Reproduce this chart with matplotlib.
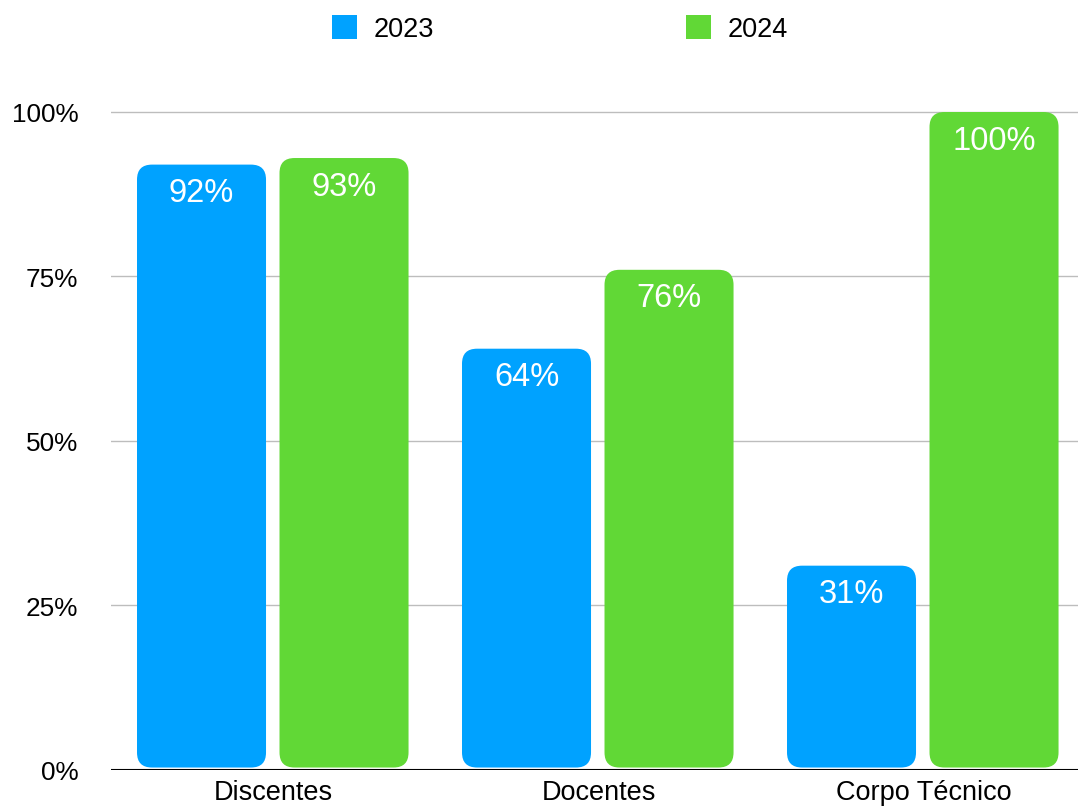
import matplotlib
matplotlib.use("Agg")
import matplotlib.pyplot as plt
from matplotlib.patches import FancyBboxPatch, Patch
import numpy as np

categories = ["Discentes", "Docentes", "Corpo Técnico"]
series_names = ["2023", "2024"]
values_2023 = [92, 64, 31]
values_2024 = [93, 76, 100]
y_ticks = [0, 25, 50, 75, 100]
y_tick_labels = ["0%", "25%", "50%", "75%", "100%"]

colors = ["#00A2FF", "#61D836"]

plt.rcParams["font.family"] = ["Liberation Sans", "DejaVu Sans"]

W, H = 1078, 812
fig = plt.figure(figsize=(W / 100, H / 100), dpi=100)

y_max = 105.0
px_per_unit = 6.575
left_px, bottom_px = 111, 770.5
top_px = bottom_px - y_max * px_per_unit
ax = fig.add_axes([left_px / W, (H - bottom_px) / H,
                   (W - left_px) / W, (bottom_px - top_px) / H])

group_px = 325.0
ax.set_xlim(-0.5, -0.5 + (W - left_px) / group_px)
ax.set_ylim(0, y_max)

for s in ax.spines.values():
    s.set_visible(False)

ax.set_yticks(y_ticks)
ax.set_yticklabels(y_tick_labels, fontsize=18.8)
ax.set_xticks(np.arange(len(categories)))
ax.set_xticklabels(categories, fontsize=19.5)
ax.tick_params(axis="y", length=0, pad=23.5)
ax.tick_params(axis="x", length=0, pad=6.5)
ax.yaxis.grid(True, color="#bdbdbd", linewidth=1.0)
ax.set_axisbelow(True)

bar_w = 0.397
offsets = [-0.2215, 0.217]
# rounded corner radius in pixels, converted to data units on each axis
radius_px = 15
x_per_px = 1.0 / group_px
y_per_px = 1.0 / px_per_unit
rx = radius_px * x_per_px
aspect = (radius_px * y_per_px) / rx

for series, vals, off, col in zip(series_names, [values_2023, values_2024], offsets, colors):
    for i, v in enumerate(vals):
        x0 = i + off - bar_w / 2
        patch = FancyBboxPatch((x0, 0.3), bar_w, v - 0.3,
                               boxstyle=f"round,pad=0,rounding_size={rx}",
                               mutation_aspect=aspect,
                               facecolor=col, edgecolor="none", zorder=2)
        ax.add_patch(patch)
        ax.text(i + off, v - 28 * y_per_px, f"{v}%", ha="center", va="center",
                color="white", fontsize=23.5, zorder=3)

ax.axhline(0, color="black", linewidth=1.5, zorder=4)

handles = [Patch(facecolor=c, edgecolor="none") for c in colors]
fig.legend(handles, series_names, loc="upper left",
           bbox_to_anchor=(332 / W, 1 - 16 / H), ncol=2, frameon=False,
           fontsize=19.5, handlelength=0.93, handleheight=1.0,
           handletextpad=0.6, columnspacing=9.3, borderpad=0, borderaxespad=0)

fig.savefig("out.png", dpi=100)
